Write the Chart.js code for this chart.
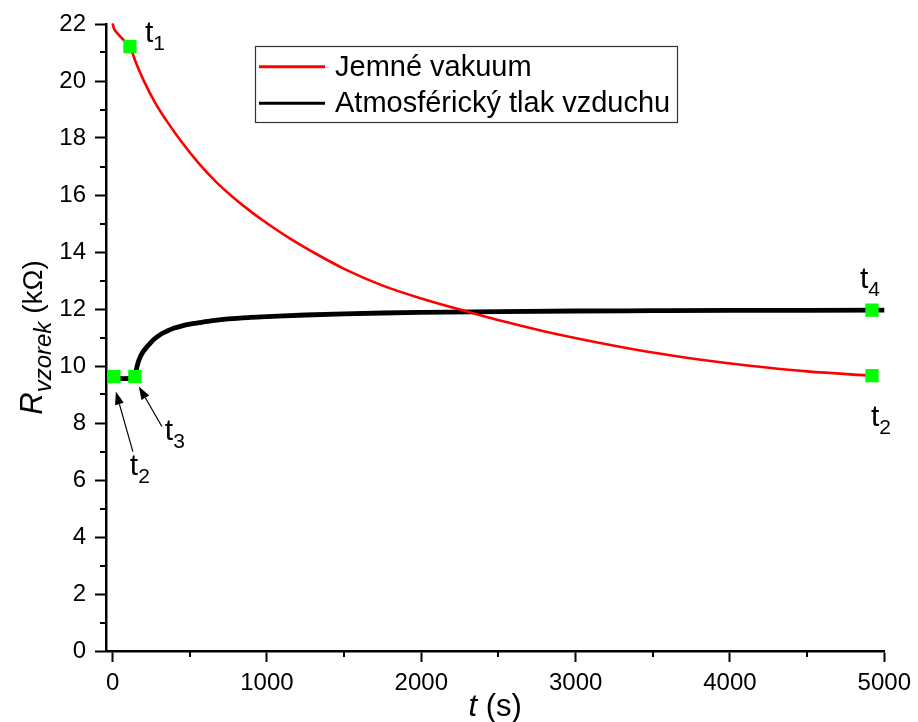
<!DOCTYPE html>
<html>
<head>
<meta charset="utf-8">
<script src="https://cdn.jsdelivr.net/npm/chart.js@4"></script>
<style>
  html, body { margin: 0; padding: 0; background: #fff; }
  #wrap { width: 918px; height: 722px; }
</style>
</head>
<body>
<div id="wrap"><canvas id="c" width="918" height="722"></canvas></div>
<script>
// Jemné vakuum: sample resistance (kΩ) over time (s)
const vakuumTime = [0, 8, 30, 60, 90, 112, 150, 200, 275, 350, 450, 560, 670, 780, 900, 1000, 1150, 1320, 1500, 1750, 2000, 2300, 2550, 2800, 3100, 3468, 3800, 4113, 4500, 4920];
const vakuumR    = [22.02, 21.85, 21.68, 21.5, 21.34, 21.21, 20.66, 20.03, 19.24, 18.6, 17.84, 17.1, 16.46, 15.92, 15.4, 15.01, 14.47, 13.93, 13.41, 12.82, 12.37, 11.905, 11.54, 11.21, 10.87, 10.5, 10.23, 10.02, 9.81, 9.66];

// Atmosférický tlak vzduchu
const vzduchTime = [0, 70, 140, 150, 165, 180, 200, 220, 240, 265, 290, 320, 350, 400, 450, 500, 560, 650, 750, 880, 1000, 1250, 1500, 1750, 2000, 2500, 3000, 3500, 4000, 4500, 5000];
const vzduchR    = [9.6, 9.56, 9.57, 9.8, 10.12, 10.33, 10.52, 10.66, 10.78, 10.92, 11.03, 11.14, 11.22, 11.33, 11.41, 11.47, 11.52, 11.59, 11.65, 11.7, 11.73, 11.79, 11.83, 11.86, 11.88, 11.91, 11.93, 11.94, 11.95, 11.955, 11.96];

// Marked instants t1..t4
const markerTime = [8, 144, 112, 4920, 4920];
const markerR    = [9.63, 9.63, 21.21, 9.66, 11.96];
const markerSub  = ['2', '3', '1', '2', '4'];

const seriesNames = ['Jemné vakuum', 'Atmosférický tlak vzduchu'];

const xTicks = [0, 1000, 2000, 3000, 4000, 5000];
const xMinor = [500, 1500, 2500, 3500, 4500];
const yTicks = [0, 2, 4, 6, 8, 10, 12, 14, 16, 18, 20, 22];
const yMinor = [1, 3, 5, 7, 9, 11, 13, 15, 17, 19, 21];

const FAM = '"Liberation Sans", Arial, sans-serif';

const toXY = (xs, ys) => xs.map((x, i) => ({ x: x, y: ys[i] }));

// label placement around each marker (pixel offsets) and arrows
const labelLayout = [
  { dx: 16, dy: 98, arrow: { from: [19, 75], to: [2, 15] } },
  { dx: 30, dy: 63, arrow: { from: [27, 50], to: [4, 10] } },
  { dx: 15, dy: -5 },
  { dx: -1, dy: 50 },
  { dx: -12, dy: -22 }
];

function drawRuns(ctx, runs, x, y, align) {
  let total = 0;
  runs.forEach(r => { ctx.font = r.font; r.w = ctx.measureText(r.text).width; total += r.w; });
  let cx = align === 'center' ? x - total / 2 : x;
  runs.forEach(r => { ctx.font = r.font; ctx.fillText(r.text, cx, y + (r.dy || 0)); cx += r.w; });
}

function arrow(ctx, x1, y1, x2, y2) {
  const a = Math.atan2(y2 - y1, x2 - x1);
  const len = 13, hw = 4.5;
  const bx = x2 - len * Math.cos(a), by = y2 - len * Math.sin(a);
  ctx.beginPath();
  ctx.moveTo(x1, y1);
  ctx.lineTo(bx, by);
  ctx.lineWidth = 1.2;
  ctx.strokeStyle = '#000';
  ctx.stroke();
  ctx.beginPath();
  ctx.moveTo(x2, y2);
  ctx.lineTo(bx - hw * Math.sin(a), by + hw * Math.cos(a));
  ctx.lineTo(bx + hw * Math.sin(a), by - hw * Math.cos(a));
  ctx.closePath();
  ctx.fillStyle = '#000';
  ctx.fill();
}

const decorations = {
  id: 'decorations',
  afterDraw(chart) {
    const ctx = chart.ctx;
    const xs = chart.scales.x, ys = chart.scales.y;
    const area = chart.chartArea;
    ctx.save();

    // minor ticks
    ctx.strokeStyle = '#000';
    ctx.lineWidth = 2;
    ctx.beginPath();
    xMinor.forEach(v => {
      const p = Math.round(xs.getPixelForValue(v));
      ctx.moveTo(p, area.bottom);
      ctx.lineTo(p, area.bottom + 6);
    });
    yMinor.forEach(v => {
      const p = Math.round(ys.getPixelForValue(v));
      ctx.moveTo(area.left, p);
      ctx.lineTo(area.left - 6, p);
    });
    ctx.stroke();

    // axis titles
    ctx.fillStyle = '#000';
    ctx.textBaseline = 'alphabetic';
    drawRuns(ctx, [
      { text: 't', font: 'italic 31px ' + FAM },
      { text: ' (s)', font: '31px ' + FAM }
    ], (area.left + area.right) / 2, 716, 'center');

    ctx.save();
    ctx.translate(42, (area.top + area.bottom) / 2);
    ctx.rotate(-Math.PI / 2);
    drawRuns(ctx, [
      { text: 'R', font: 'italic 31px ' + FAM },
      { text: 'vzorek', font: 'italic 24px ' + FAM, dy: 9 },
      { text: ' (kΩ)', font: '28px ' + FAM }
    ], 0, 0, 'center');
    ctx.restore();

    // legend
    const lx = 255, ly = 46, lw = 422, lh = 76;
    ctx.lineWidth = 1.2;
    ctx.strokeStyle = '#333';
    ctx.strokeRect(lx + 0.5, ly + 0.5, lw, lh);
    const rows = [66.7, 103.3];
    chart.data.datasets.slice(0, 2).forEach((ds, i) => {
      ctx.beginPath();
      ctx.moveTo(lx + 4, rows[i]);
      ctx.lineTo(lx + 70, rows[i]);
      ctx.strokeStyle = ds.borderColor;
      ctx.lineWidth = 3;
      ctx.stroke();
      ctx.font = '29px ' + FAM;
      ctx.fillStyle = '#000';
      ctx.textBaseline = 'middle';
      ctx.fillText(ds.label, lx + 80, rows[i] + 1);
    });

    // t labels and arrows
    ctx.textBaseline = 'alphabetic';
    ctx.fillStyle = '#000';
    markerTime.forEach((t, i) => {
      const px = xs.getPixelForValue(t), py = ys.getPixelForValue(markerR[i]);
      const L = labelLayout[i];
      drawRuns(ctx, [
        { text: 't', font: '30px ' + FAM },
        { text: markerSub[i], font: '21px ' + FAM, dy: 8 }
      ], px + L.dx, py + L.dy, 'left');
      if (L.arrow) {
        arrow(ctx, px + L.arrow.from[0], py + L.arrow.from[1], px + L.arrow.to[0], py + L.arrow.to[1]);
      }
    });
    ctx.restore();
  }
};

const tickFont = { family: FAM, size: 24 };

new Chart(document.getElementById('c'), {
  type: 'scatter',
  data: {
    datasets: [
      {
        label: seriesNames[0],
        data: toXY(vakuumTime, vakuumR),
        showLine: true,
        borderColor: '#ff0000',
        borderWidth: 2.6,
        pointRadius: 0,
        cubicInterpolationMode: 'monotone',
        clip: false
      },
      {
        label: seriesNames[1],
        data: toXY(vzduchTime, vzduchR),
        showLine: true,
        borderColor: '#000000',
        borderWidth: 4.8,
        pointRadius: 0,
        cubicInterpolationMode: 'monotone',
        clip: false
      },
      {
        label: 'body',
        data: toXY(markerTime, markerR),
        showLine: false,
        pointStyle: 'rect',
        pointRadius: 9.4,
        pointBorderWidth: 0,
        backgroundColor: '#00ff00',
        borderColor: '#00ff00',
        order: -1,
        clip: false
      }
    ]
  },
  options: {
    responsive: false,
    animation: false,
    devicePixelRatio: 1,
    layout: { padding: { top: 24, right: 31, left: 0, bottom: 0 } },
    plugins: {
      legend: { display: false },
      tooltip: { enabled: false }
    },
    scales: {
      x: {
        type: 'linear',
        min: -43,
        max: 5000,
        afterBuildTicks: s => { s.ticks = xTicks.map(v => ({ value: v })); },
        afterFit: s => { s.height = 71; },
        grid: { display: true, drawOnChartArea: false, drawTicks: true, tickLength: 11, tickWidth: 2, color: '#000' },
        border: { display: true, width: 2.5, color: '#000' },
        ticks: { font: tickFont, color: '#000', padding: 7, maxRotation: 0, autoSkip: false, callback: v => String(v) }
      },
      y: {
        type: 'linear',
        min: 0,
        max: 22,
        afterBuildTicks: s => { s.ticks = yTicks.map(v => ({ value: v })); },
        afterFit: s => { s.width = 106; },
        grid: { display: true, drawOnChartArea: false, drawTicks: true, tickLength: 11, tickWidth: 2, color: '#000' },
        border: { display: true, width: 2.5, color: '#000' },
        ticks: { font: tickFont, color: '#000', padding: 9, autoSkip: false, callback: v => String(v) }
      }
    }
  },
  plugins: [decorations]
});
</script>
</body>
</html>
